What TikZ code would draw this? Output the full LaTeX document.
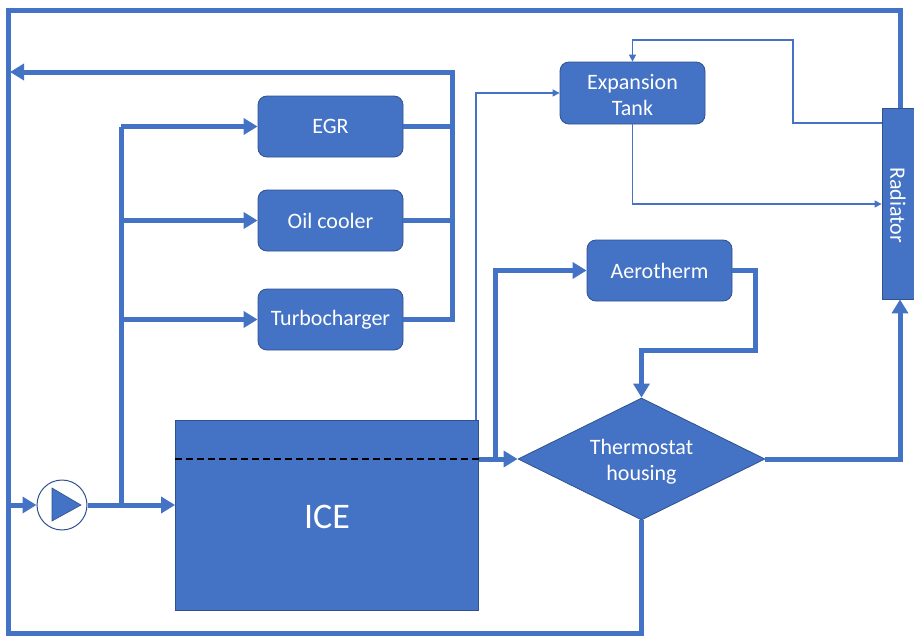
\documentclass[tikz,border=0pt]{standalone}
\usepackage{fontspec}
\setmainfont{Carlito}
\usetikzlibrary{arrows.meta,shapes.geometric,calc}
\definecolor{fillblue}{HTML}{4472C4}
\definecolor{edgeblue}{HTML}{2F528F}

\begin{document}
\begin{tikzpicture}[x=1pt,y=-1pt,
  unit/.style={rectangle, rounded corners=9pt, fill=fillblue, draw=edgeblue,
    line width=0.8pt, text=white, font=\fontsize{22}{25}\selectfont, align=center,
    minimum width=145pt, minimum height=61pt, inner sep=0pt},
  block/.style={rectangle, fill=fillblue, draw=edgeblue, line width=0.8pt, inner sep=0pt},
  label/.style={text=white, font=\fontsize{22}{26}\selectfont, align=center, inner sep=0pt},
  pipe/.style={draw=fillblue, line width=5pt},
  flow/.style={pipe, -{Triangle[length=14pt,width=16pt]}},
  vent/.style={draw=fillblue, line width=1.2pt},
  ventflow/.style={vent, -{Triangle[length=7pt,width=7pt]}}
]
\useasboundingbox (0,0) rectangle (914,637);

% components
\node[unit] (egr)   at (330.5,126.5) {EGR};
\node[unit] (oil)   at (330.5,220.5) {Oil cooler};
\node[unit] (turbo) at (330.5,319.5) {Turbocharger};
\node[unit, minimum height=62pt] (tank) at (632.5,93) {};
\node[label] (tanklabel) at (632.5,95.5) {Expansion\\Tank};
\node[unit] (aero)  at (659.5,270.5) {Aerotherm};
\node[block, minimum width=36pt, minimum height=191pt] (rad) at (900,203.5) {};
\node[label, rotate=-90] (radlabel) at (898,205) {Radiator};
\node[block, minimum width=303pt, minimum height=190pt] (ice) at (327,515) {};
\node[label, font=\fontsize{36}{40}\selectfont] (icelabel) at (327,517) {ICE};
\node[diamond, fill=fillblue, draw=edgeblue, line width=0.8pt, minimum width=247pt,
  minimum height=122pt, inner sep=0pt] (thermo) at (641.5,459) {};
\node[label] (thermolabel) at (641.5,462) {Thermostat\\housing};

% pump
\node[circle, fill=white, draw=edgeblue, line width=1pt, minimum size=50pt, inner sep=0pt] (pump) at (62,505) {};
\fill[fillblue, draw=edgeblue, line width=0.6pt] ($(pump.center)+(-10,-17)$) -- ++(29,17) -- ++(-29,16) -- cycle;

% junctions and corners of the main loop
\coordinate (lt) at (8,10);
\coordinate (lb) at (8,633);
\coordinate (tb) at (641.5,633);
\coordinate (rt) at (900,10);
\coordinate (pin) at (8,505);
\coordinate (split) at (121,505);
\coordinate (col) at (452,72);
\coordinate (ret) at (10,72);
\coordinate (iceout) at (478.5,459);
\coordinate (br) at (495.5,459);
\coordinate (a1) at (755,270.5);
\coordinate (a2) at (755,350);
\coordinate (icevent) at (476,420);
\coordinate (tk) at (632.5,204);
\coordinate (rv1) at (793,123);
\coordinate (rv2) at (793,40);

% main loop: thermostat bypass, return line and radiator outlet
\draw[pipe] (thermo.south) -- (tb) -- (lb) -- (lt) -- (rt) -- (rad.north);
\draw[flow] (pin) -- (pump.west);
\draw[flow] (pump.east) -- (pump.east -| ice.west);

% supply to auxiliaries
\draw[pipe] (split) -- (split |- egr.west);
\draw[flow] (split |- egr.west) -- (egr.west);
\draw[flow] (split |- oil.west) -- (oil.west);
\draw[flow] (split |- turbo.west) -- (turbo.west);

% auxiliary return
\draw[pipe] (egr.east) -- (egr.east -| col);
\draw[pipe] (oil.east) -- (oil.east -| col);
\draw[flow] (turbo.east) -- (turbo.east -| col) -- (col) -- (ret);

% engine outlet
\draw[black, dash pattern=on 7pt off 4pt, line width=1.6pt] (ice.west |- iceout) -- (iceout);
\draw[flow] (iceout) -- (thermo.west);
\draw[flow] (br) -- (br |- aero.west) -- (aero.west);
\draw[flow] (aero.east) -- (a1) -- (a2) -- (a2 -| thermo.north) -- (thermo.north);
\draw[flow] (thermo.east) -- (thermo.east -| rad.south) -- (rad.south);

% degassing lines
\draw[ventflow] (icevent) -- (icevent |- tank.west) -- (tank.west);
\draw[ventflow] (tank.south) -- (tk) -- (tk -| rad.west);
\draw[ventflow] (rad.west |- rv1) -- (rv1) -- (rv2) -- (rv2 -| tank.north) -- (tank.north);
\end{tikzpicture}
\end{document}
